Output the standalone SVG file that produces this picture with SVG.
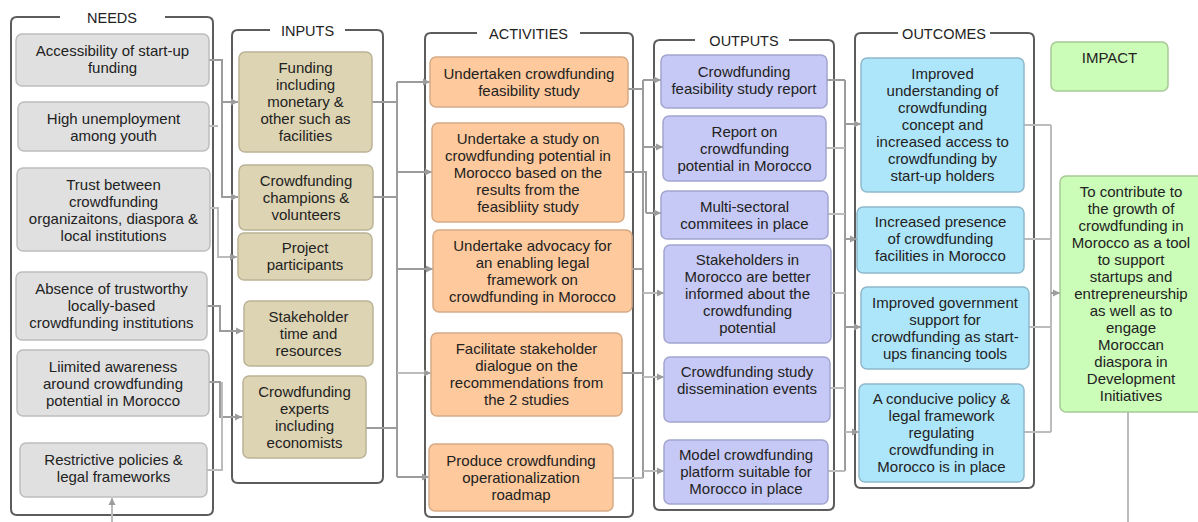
<svg xmlns="http://www.w3.org/2000/svg" width="1198" height="522" viewBox="0 0 1198 522">
  <style>
    text { font-family: "Liberation Sans", Arial, sans-serif; font-size: 15px; fill: #222; text-anchor: middle; }
    .title { font-size: 14.5px; }
    .frame { fill: none; stroke: #5c5c5c; stroke-width: 2; }
    .box { stroke-width: 1.5; }
    .need { fill: #e0e0e0; stroke: #bdbdbd; }
    .input { fill: #ddd4b3; stroke: #bbb397; }
    .act { fill: #fec99c; stroke: #d6aa86; }
    .out { fill: #c6c9f5; stroke: #a2a5d0; }
    .outc { fill: #ade6fb; stroke: #8fb9cb; }
    .imp { fill: #cbfcb8; stroke: #a6c996; }
    .conn { fill: none; stroke: #9c9c9c; stroke-width: 2; }
    .conn.light { stroke: #bcbcbc; }
  </style>
  <defs>
    <marker id="arrow" viewBox="0 0 8 8" refX="7" refY="4" markerWidth="8" markerHeight="8" markerUnits="userSpaceOnUse" orient="auto">
      <path d="M0,0.5 L7,4 L0,7.5 Z" fill="#9c9c9c"/>
    </marker>
  </defs>

  <rect width="1198" height="522" fill="#fff"/>

  <!-- column frames with the heading set into the top edge -->
  <g id="frames">
    <path class="frame" d="M165,17 H207 Q213,17 213,23 V509 Q213,515 207,515 H17 Q11,515 11,509 V23 Q11,17 17,17 H60"/>
    <text class="title" x="112" y="22.5">NEEDS</text>
    <path class="frame" d="M345,30 H377 Q383,30 383,36 V477 Q383,483 377,483 H238 Q232,483 232,477 V36 Q232,30 238,30 H270"/>
    <text class="title" x="307.5" y="35.5">INPUTS</text>
    <path class="frame" d="M580,33 H627 Q633,33 633,39 V511 Q633,517 627,517 H431 Q425,517 425,511 V39 Q425,33 431,33 H477"/>
    <text class="title" x="528.5" y="38.5">ACTIVITIES</text>
    <path class="frame" d="M789,40 H828 Q834,40 834,46 V504 Q834,510 828,510 H660 Q654,510 654,504 V46 Q654,40 660,40 H695"/>
    <text class="title" x="744" y="45.5">OUTPUTS</text>
    <path class="frame" d="M990,33 H1028 Q1034,33 1034,39 V482 Q1034,488 1028,488 H861 Q855,488 855,482 V39 Q855,33 861,33 H898"/>
    <text class="title" x="944" y="38.5">OUTCOMES</text>
  </g>

  <!-- connectors -->
  <g id="connectors">
    <!-- needs to inputs -->
    <path class="conn" d="M209,60 H222 V197 H238" marker-end="url(#arrow)"/>
    <path class="conn" d="M222,102 H238" marker-end="url(#arrow)"/>
    <path class="conn light" d="M209,126 H218"/>
    <path class="conn light" d="M210,208 H218 V257 H237" marker-end="url(#arrow)"/>
    <path class="conn" d="M207,306 H220 V331 H243" marker-end="url(#arrow)"/>
    <path class="conn" d="M209,382 H220 V417 H242" marker-end="url(#arrow)"/>
    <path class="conn light" d="M207,470 H222 V382"/>
    <!-- inputs to activities -->
    <path class="conn" d="M397,82 V477"/>
    <path class="conn" d="M372,102 H397"/>
    <path class="conn" d="M373,197 H397"/>
    <path class="conn" d="M366,428 H397"/>
    <path class="conn" d="M397,82 H430" marker-end="url(#arrow)"/>
    <path class="conn" d="M397,172 H432" marker-end="url(#arrow)"/>
    <path class="conn" d="M397,269 H433" marker-end="url(#arrow)"/>
    <path class="conn light" d="M397,373 H431" marker-end="url(#arrow)"/>
    <path class="conn" d="M397,477 H429" marker-end="url(#arrow)"/>
    <!-- activities to outputs -->
    <path class="conn" d="M643,80 V478"/>
    <path class="conn" d="M628,89 H643"/>
    <path class="conn" d="M624,172 H646 V213"/>
    <path class="conn" d="M632,269 H643"/>
    <path class="conn" d="M622,373 H643"/>
    <path class="conn light" d="M613,478 H643"/>
    <path class="conn" d="M643,80 H661" marker-end="url(#arrow)"/>
    <path class="conn" d="M643,147 H663" marker-end="url(#arrow)"/>
    <path class="conn" d="M646,213 H661" marker-end="url(#arrow)"/>
    <path class="conn light" d="M643,293 H664" marker-end="url(#arrow)"/>
    <path class="conn light" d="M643,377 H664" marker-end="url(#arrow)"/>
    <path class="conn light" d="M643,471 H664" marker-end="url(#arrow)"/>
    <!-- outputs to outcomes -->
    <path class="conn" d="M845,80 V471"/>
    <path class="conn" d="M827,80 H845"/>
    <path class="conn light" d="M826,148 H845"/>
    <path class="conn light" d="M828,214 H845"/>
    <path class="conn light" d="M831,293 H845"/>
    <path class="conn light" d="M830,388 H845"/>
    <path class="conn light" d="M828,471 H845"/>
    <path class="conn" d="M845,124 H861" marker-end="url(#arrow)"/>
    <path class="conn" d="M845,239 H857" marker-end="url(#arrow)"/>
    <path class="conn" d="M845,327 H861" marker-end="url(#arrow)"/>
    <path class="conn light" d="M845,432 H859" marker-end="url(#arrow)"/>
    <!-- outcomes to impact -->
    <path class="conn light" d="M1051,125 V432"/>
    <path class="conn light" d="M1024,125 H1051"/>
    <path class="conn light" d="M1024,239 H1051"/>
    <path class="conn light" d="M1029,327 H1051"/>
    <path class="conn light" d="M1024,432 H1051"/>
    <path class="conn" d="M1051,293 H1060" marker-end="url(#arrow)"/>
    <!-- lead lines at the bottom edge -->
    <path class="conn light" d="M112,522 V498" marker-end="url(#arrow)"/>
    <path class="conn light" d="M1128,412 V522"/>
  </g>

  <!-- needs -->
  <g id="need-1"><rect class="box need" x="16" y="34" width="193" height="52" rx="6"/>
    <text x="112.5"><tspan x="112.5" y="55.5">Accessibility of start-up</tspan><tspan x="112.5" y="72.5">funding</tspan></text></g>
  <g id="need-2"><rect class="box need" x="18" y="102" width="191" height="49" rx="6"/>
    <text><tspan x="113.5" y="123.5">High unemployment</tspan><tspan x="113.5" y="140.5">among youth</tspan></text></g>
  <g id="need-3"><rect class="box need" x="17" y="168" width="193" height="83" rx="6"/>
    <text><tspan x="113.5" y="189.5">Trust between</tspan><tspan x="113.5" y="206.5">crowdfunding</tspan><tspan x="113.5" y="223.5">organizaitons, diaspora &amp;</tspan><tspan x="113.5" y="240.5">local institutions</tspan></text></g>
  <g id="need-4"><rect class="box need" x="16" y="272" width="191" height="68" rx="6"/>
    <text><tspan x="111.5" y="293.5">Absence of trustworthy</tspan><tspan x="111.5" y="310.5">locally-based</tspan><tspan x="111.5" y="327.5">crowdfunding institutions</tspan></text></g>
  <g id="need-5"><rect class="box need" x="17" y="350" width="192" height="66" rx="6"/>
    <text><tspan x="113" y="371.5">Liimited awareness</tspan><tspan x="113" y="388.5">around crowdfunding</tspan><tspan x="113" y="405.5">potential in Morocco</tspan></text></g>
  <g id="need-6"><rect class="box need" x="20" y="443" width="187" height="54" rx="6"/>
    <text><tspan x="113.5" y="464.5">Restrictive policies &amp;</tspan><tspan x="113.5" y="481.5">legal frameworks</tspan></text></g>

  <!-- inputs -->
  <g id="input-1"><rect class="box input" x="239" y="52" width="133" height="100" rx="6"/>
    <text><tspan x="305.5" y="73">Funding</tspan><tspan x="305.5" y="90">including</tspan><tspan x="305.5" y="107">monetary &amp;</tspan><tspan x="305.5" y="124">other such as</tspan><tspan x="305.5" y="141">facilities</tspan></text></g>
  <g id="input-2"><rect class="box input" x="239" y="165" width="134" height="65" rx="6"/>
    <text><tspan x="306" y="185.5">Crowdfunding</tspan><tspan x="306" y="202.5">champions &amp;</tspan><tspan x="306" y="219.5">volunteers</tspan></text></g>
  <g id="input-3"><rect class="box input" x="238" y="233" width="134" height="47" rx="6"/>
    <text><tspan x="305" y="253">Project</tspan><tspan x="305" y="270">participants</tspan></text></g>
  <g id="input-4"><rect class="box input" x="244" y="301" width="129" height="65" rx="6"/>
    <text><tspan x="308.5" y="321.5">Stakeholder</tspan><tspan x="308.5" y="338.5">time and</tspan><tspan x="308.5" y="355.5">resources</tspan></text></g>
  <g id="input-5"><rect class="box input" x="243" y="376" width="123" height="82" rx="6"/>
    <text><tspan x="304.5" y="396.5">Crowdfunding</tspan><tspan x="304.5" y="413.5">experts</tspan><tspan x="304.5" y="430.5">including</tspan><tspan x="304.5" y="447.5">economists</tspan></text></g>

  <!-- activities -->
  <g id="activity-1"><rect class="box act" x="430" y="57" width="198" height="50" rx="6"/>
    <text><tspan x="529" y="78.5">Undertaken crowdfunding</tspan><tspan x="529" y="95.5">feasibility study</tspan></text></g>
  <g id="activity-2"><rect class="box act" x="432" y="123" width="192" height="99" rx="6"/>
    <text><tspan x="528" y="143.5">Undertake a study on</tspan><tspan x="528" y="160.5">crowdfunding potential in</tspan><tspan x="528" y="177.5">Morocco based on the</tspan><tspan x="528" y="194.5">results from the</tspan><tspan x="528" y="211.5">feasibliity study</tspan></text></g>
  <g id="activity-3"><rect class="box act" x="433" y="230" width="199" height="82" rx="6"/>
    <text><tspan x="532.5" y="250.5">Undertake advocacy for</tspan><tspan x="532.5" y="267.5">an enabling legal</tspan><tspan x="532.5" y="284.5">framework on</tspan><tspan x="532.5" y="301.5">crowdfunding in Morocco</tspan></text></g>
  <g id="activity-4"><rect class="box act" x="431" y="333" width="191" height="83" rx="6"/>
    <text><tspan x="526.5" y="354">Facilitate stakeholder</tspan><tspan x="526.5" y="371">dialogue on the</tspan><tspan x="526.5" y="388">recommendations from</tspan><tspan x="526.5" y="405">the 2 studies</tspan></text></g>
  <g id="activity-5"><rect class="box act" x="429" y="444" width="184" height="67" rx="6"/>
    <text><tspan x="521" y="465.5">Produce crowdfunding</tspan><tspan x="521" y="482.5">operationalization</tspan><tspan x="521" y="499.5">roadmap</tspan></text></g>

  <!-- outputs -->
  <g id="output-1"><rect class="box out" x="661" y="55" width="166" height="53" rx="6"/>
    <text><tspan x="744" y="76.5">Crowdfunding</tspan><tspan x="744" y="93.5">feasibility study report</tspan></text></g>
  <g id="output-2"><rect class="box out" x="663" y="116" width="163" height="65" rx="6"/>
    <text><tspan x="744.5" y="136.5">Report on</tspan><tspan x="744.5" y="153.5">crowdfunding</tspan><tspan x="744.5" y="170.5">potential in Morocco</tspan></text></g>
  <g id="output-3"><rect class="box out" x="661" y="191" width="167" height="48" rx="6"/>
    <text><tspan x="744.5" y="211.5">Multi-sectoral</tspan><tspan x="744.5" y="228.5">commitees in place</tspan></text></g>
  <g id="output-4"><rect class="box out" x="664" y="245" width="167" height="98" rx="6"/>
    <text><tspan x="747.5" y="265">Stakeholders in</tspan><tspan x="747.5" y="282">Morocco are better</tspan><tspan x="747.5" y="299">informed about the</tspan><tspan x="747.5" y="316">crowdfunding</tspan><tspan x="747.5" y="333">potential</tspan></text></g>
  <g id="output-5"><rect class="box out" x="664" y="357" width="166" height="65" rx="6"/>
    <text><tspan x="747" y="377">Crowdfunding study</tspan><tspan x="747" y="394">dissemination events</tspan></text></g>
  <g id="output-6"><rect class="box out" x="664" y="440" width="164" height="64" rx="6"/>
    <text><tspan x="746" y="460">Model crowdfunding</tspan><tspan x="746" y="477">platform suitable for</tspan><tspan x="746" y="494">Morocco in place</tspan></text></g>

  <!-- outcomes -->
  <g id="outcome-1"><rect class="box outc" x="861" y="58" width="163" height="134" rx="6"/>
    <text><tspan x="942.5" y="79">Improved</tspan><tspan x="942.5" y="96">understanding of</tspan><tspan x="942.5" y="113">crowdfunding</tspan><tspan x="942.5" y="130">concept and</tspan><tspan x="942.5" y="147">increased access to</tspan><tspan x="942.5" y="164">crowdfunding by</tspan><tspan x="942.5" y="181">start-up holders</tspan></text></g>
  <g id="outcome-2"><rect class="box outc" x="857" y="207" width="167" height="66" rx="6"/>
    <text><tspan x="940.5" y="227">Increased presence</tspan><tspan x="940.5" y="244">of crowdfunding</tspan><tspan x="940.5" y="261">facilities in Morocco</tspan></text></g>
  <g id="outcome-3"><rect class="box outc" x="861" y="287" width="168" height="82" rx="6"/>
    <text><tspan x="945" y="307.5">Improved government</tspan><tspan x="945" y="324.5">support for</tspan><tspan x="945" y="341.5">crowdfunding as start-</tspan><tspan x="945" y="358.5">ups financing tools</tspan></text></g>
  <g id="outcome-4"><rect class="box outc" x="859" y="384" width="165" height="98" rx="6"/>
    <text><tspan x="941.5" y="403.5">A conducive policy &amp;</tspan><tspan x="941.5" y="420.5">legal framework</tspan><tspan x="941.5" y="437.5">regulating</tspan><tspan x="941.5" y="454.5">crowdfunding in</tspan><tspan x="941.5" y="471.5">Morocco is in place</tspan></text></g>

  <!-- impact -->
  <g id="impact-heading"><rect class="box imp" x="1051" y="42" width="117" height="49" rx="6"/>
    <text x="1109.5" y="63">IMPACT</text></g>
  <g id="impact"><rect class="box imp" x="1060" y="176" width="144" height="236" rx="6"/>
    <text><tspan x="1131" y="197">To contribute to</tspan><tspan x="1131" y="214">the growth of</tspan><tspan x="1131" y="231">crowdfunding in</tspan><tspan x="1131" y="248">Morocco as a tool</tspan><tspan x="1131" y="265">to support</tspan><tspan x="1131" y="282">startups and</tspan><tspan x="1131" y="299">entrepreneurship</tspan><tspan x="1131" y="316">as well as to</tspan><tspan x="1131" y="333">engage</tspan><tspan x="1131" y="350">Moroccan</tspan><tspan x="1131" y="367">diaspora in</tspan><tspan x="1131" y="384">Development</tspan><tspan x="1131" y="401">Initiatives</tspan></text></g>
</svg>
